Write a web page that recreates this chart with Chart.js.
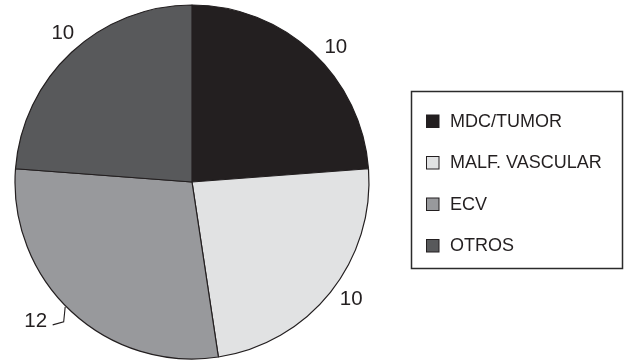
<!DOCTYPE html>
<html>
<head>
<meta charset="utf-8">
<script src="https://cdn.jsdelivr.net/npm/chart.js@4.4.1/dist/chart.umd.min.js"></script>
<style>
  html, body { margin: 0; padding: 0; background: #ffffff; }
  #wrap { position: relative; width: 625px; height: 363px; }
</style>
</head>
<body>
<div id="wrap"><canvas id="c" width="625" height="363"></canvas></div>
<script>
// Causes of the cases, in drawing order (clockwise from 12 o'clock)
const categories = ['MDC/TUMOR', 'MALF. VASCULAR', 'ECV', 'OTROS'];
const counts = [10, 10, 12, 10];
const sliceColors = ['#231f20', '#e1e2e3', '#98999c', '#58595b'];

const FONT = '"Liberation Sans", Arial, Helvetica, sans-serif';

// Value labels placed just outside each slice; the ECV one gets a small leader line
const labelNudgeDeg = [3.9, -2.3, 0, 2.0];
const outsideLabels = {
  id: 'outsideLabels',
  afterDatasetsDraw(chart) {
    const ctx = chart.ctx;
    const meta = chart.getDatasetMeta(0);
    ctx.save();
    ctx.font = '20.5px ' + FONT;
    ctx.fillStyle = '#231f20';
    ctx.textAlign = 'center';
    ctx.textBaseline = 'middle';
    meta.data.forEach((arc, i) => {
      const mid = (arc.startAngle + arc.endAngle) / 2 + labelNudgeDeg[i] * Math.PI / 180;
      const R = arc.outerRadius;
      const value = chart.data.datasets[0].data[i];
      if (i === 2) {
        // leader: from the rim, down a little, then left toward the text
        const ex = arc.x + (R + 1) * Math.cos(mid + 0.045);
        const ey = arc.y + (R + 1) * Math.sin(mid + 0.045);
        const p2x = ex - 1.5, p2y = ey + 15;
        const p3x = p2x - 11, p3y = p2y + 3;
        ctx.strokeStyle = '#231f20';
        ctx.lineWidth = 1.1;
        ctx.beginPath();
        ctx.moveTo(ex, ey);
        ctx.lineTo(p2x, p2y);
        ctx.lineTo(p3x, p3y);
        ctx.stroke();
        ctx.fillText(String(value), p3x - 17, p3y - 4);
      } else {
        const r = R + 20.5;
        ctx.fillText(String(value), arc.x + r * Math.cos(mid), arc.y + r * Math.sin(mid) + 0.5);
      }
    });
    ctx.restore();
  }
};

// Boxed legend on the right
const boxedLegend = {
  id: 'boxedLegend',
  afterDraw(chart) {
    const ctx = chart.ctx;
    const ds = chart.data.datasets[0];
    const box = { x: 411.5, y: 91.5, w: 211, h: 177 };
    ctx.save();
    ctx.strokeStyle = '#2b2b2b';
    ctx.lineWidth = 1.5;
    ctx.strokeRect(box.x, box.y, box.w, box.h);
    ctx.font = '18px ' + FONT;
    ctx.textAlign = 'left';
    ctx.textBaseline = 'middle';
    const rowY0 = 121, rowStep = 41.5;
    chart.data.labels.forEach((lab, i) => {
      const cy = rowY0 + i * rowStep;
      ctx.fillStyle = ds.backgroundColor[i];
      ctx.fillRect(426.5, cy - 6, 12.5, 12.5);
      ctx.strokeStyle = '#231f20';
      ctx.lineWidth = 1;
      ctx.strokeRect(426.5, cy - 6, 12.5, 12.5);
      ctx.fillStyle = '#231f20';
      ctx.fillText(lab, 450, cy + 1);
    });
    ctx.restore();
  }
};

new Chart(document.getElementById('c'), {
  type: 'pie',
  data: {
    labels: categories,
    datasets: [{
      data: counts,
      backgroundColor: sliceColors,
      borderColor: '#231f20',
      borderWidth: 1.2,
      hoverOffset: 0,
      offset: 0
    }]
  },
  options: {
    responsive: false,
    animation: false,
    radius: 177,
    layout: { padding: { left: 14, right: 255, top: 5, bottom: 4 } },
    plugins: {
      legend: { display: false },
      tooltip: { enabled: false }
    },
    events: []
  },
  plugins: [outsideLabels, boxedLegend]
});
</script>
</body>
</html>
